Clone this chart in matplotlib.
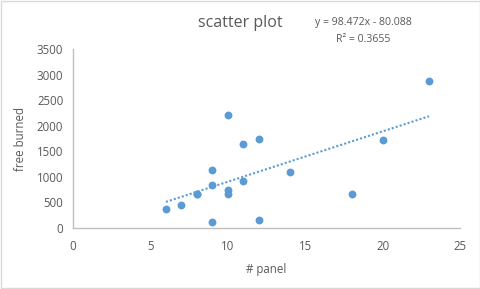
import matplotlib
matplotlib.use("Agg")
import matplotlib.pyplot as plt
import numpy as np

panels = [6, 7, 8, 8, 9, 9, 9, 10, 10, 10, 11, 11, 12, 12, 14, 18, 20, 23]
burned = [375, 452, 660, 672, 124, 840, 1130, 2200, 749, 668, 1640, 918, 1745, 156, 1100, 660, 1725, 2875]
slope = 98.472
intercept = -80.088
r2 = 0.3655
x_ticks = [0, 5, 10, 15, 20, 25]
y_ticks = [0, 500, 1000, 1500, 2000, 2500, 3000, 3500]

plt.rcParams['font.family'] = ['Open Sans', 'DejaVu Sans']
gray = '#595959'
blue = '#5b9bd5'

fig = plt.figure(figsize=(4.81, 2.89), dpi=100)
fig.patch.set_facecolor('white')
fig.patches.append(plt.Rectangle((0.002, 0.003), 0.995, 0.994, transform=fig.transFigure,
                                 fill=False, edgecolor='#d9d9d9', linewidth=1))
ax = fig.add_axes([73/481, 61/289, 387/481, 179/289])

ax.scatter(panels, burned, s=32, color=blue, zorder=3, linewidths=0)
xs = np.array([min(panels), max(panels)])
ax.plot(xs, slope*xs + intercept, linestyle=(0, (1, 1.0)), color=blue, linewidth=1.5)

ax.set_xlim(0, 25)
ax.set_ylim(0, 3500)
ax.set_xticks(x_ticks)
ax.set_yticks(y_ticks)
ax.tick_params(axis='x', length=0, labelsize=8.3, colors=gray, pad=9)
ax.tick_params(axis='y', length=0, labelsize=8.3, colors=gray, pad=7)
for s in ['top', 'right']:
    ax.spines[s].set_visible(False)
for s in ['left', 'bottom']:
    ax.spines[s].set_color('#bfbfbf')
    ax.spines[s].set_linewidth(1)

ax.set_xlabel('# panel', fontsize=8.3, color=gray, labelpad=7)
ax.set_ylabel('free burned', fontsize=8.3, color=gray, labelpad=7)
fig.text(240/481, 1-23/289, 'scatter plot', fontsize=11.5, color=gray, ha='center', va='center')
fig.text(363/481, 1-23/289, f'y = {slope}x - {abs(intercept)}', fontsize=7.6, color=gray, ha='center', va='center')
fig.text(363/481, 1-39/289, f'R² = {r2}', fontsize=7.6, color=gray, ha='center', va='center')

fig.savefig('out.png', dpi=100)
